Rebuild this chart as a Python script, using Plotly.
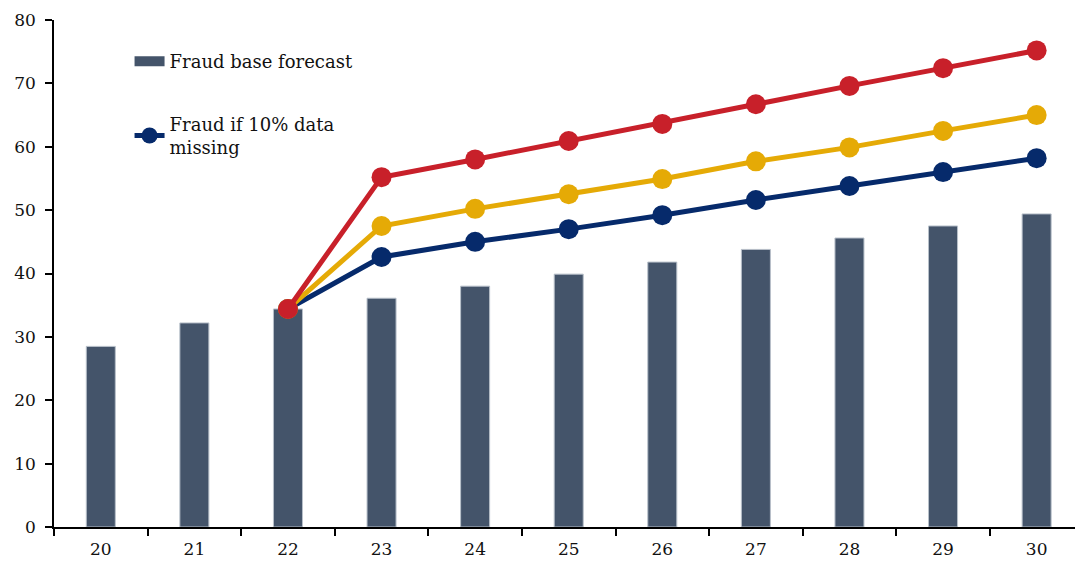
import plotly.graph_objects as go

years = ["20", "21", "22", "23", "24", "25", "26", "27", "28", "29", "30"]
base = [28.5, 32.2, 34.4, 36.1, 38.0, 39.9, 41.8, 43.8, 45.6, 47.5, 49.4]
line_years = ["22", "23", "24", "25", "26", "27", "28", "29", "30"]
navy_vals = [34.4, 42.6, 45.0, 47.0, 49.2, 51.6, 53.8, 56.0, 58.2]
yellow_vals = [34.4, 47.5, 50.2, 52.5, 54.9, 57.7, 59.9, 62.5, 65.0]
red_vals = [34.4, 55.2, 58.0, 60.9, 63.6, 66.7, 69.6, 72.4, 75.2]

FONT = "DejaVu Serif"
BAR_COLOR = "#44546A"

fig = go.Figure()
fig.add_trace(go.Bar(x=years, y=base, name="Fraud base forecast", width=0.31,
                     marker=dict(color=BAR_COLOR, line=dict(color="#B8C0CA", width=1)),
                     showlegend=False))
# legend-only entry with a wide rectangular swatch
fig.add_trace(go.Scatter(x=[None], y=[None], mode="lines", name="Fraud base forecast",
                         line=dict(color=BAR_COLOR, width=12), legend="legend"))
fig.add_trace(go.Scatter(x=line_years, y=navy_vals, mode="lines+markers",
                         name="Fraud if 10% data<br>missing",
                         line=dict(color="#062A6B", width=5),
                         marker=dict(size=20, color="#062A6B"), legend="legend2"))
fig.add_trace(go.Scatter(x=line_years, y=yellow_vals, mode="lines+markers",
                         line=dict(color="#E5AA06", width=5),
                         marker=dict(size=20, color="#E5AA06"), showlegend=False))
fig.add_trace(go.Scatter(x=line_years, y=red_vals, mode="lines+markers",
                         line=dict(color="#C8202A", width=5),
                         marker=dict(size=20, color="#C8202A"), showlegend=False))

fig.update_layout(
    width=1075, height=565,
    margin=dict(l=54, r=0, t=20, b=38),
    paper_bgcolor="white", plot_bgcolor="white",
    font=dict(family=FONT, size=17, color="#111111"),
    legend=dict(x=0.074, y=0.918, xanchor="left", yanchor="middle",
                bgcolor="rgba(0,0,0,0)", font=dict(family=FONT, size=18)),
    legend2=dict(x=0.074, y=0.772, xanchor="left", yanchor="middle",
                 bgcolor="rgba(0,0,0,0)", font=dict(family=FONT, size=18)),
    xaxis=dict(range=[-0.5, 10.41], showline=True, linecolor="black", linewidth=1.5,
               ticks="outside", tickson="boundaries", ticklen=7, tickcolor="black",
               tickwidth=1.5, showgrid=False, ticklabelstandoff=6,
               tickfont=dict(family=FONT, size=17)),
    yaxis=dict(range=[0, 80], dtick=10, showline=True, linecolor="black", linewidth=1.5,
               ticks="outside", ticklen=7, tickcolor="black", tickwidth=1.5,
               showgrid=False, zeroline=False, ticklabelstandoff=6,
               tickfont=dict(family=FONT, size=17)),
)

fig.write_html("out.html")
